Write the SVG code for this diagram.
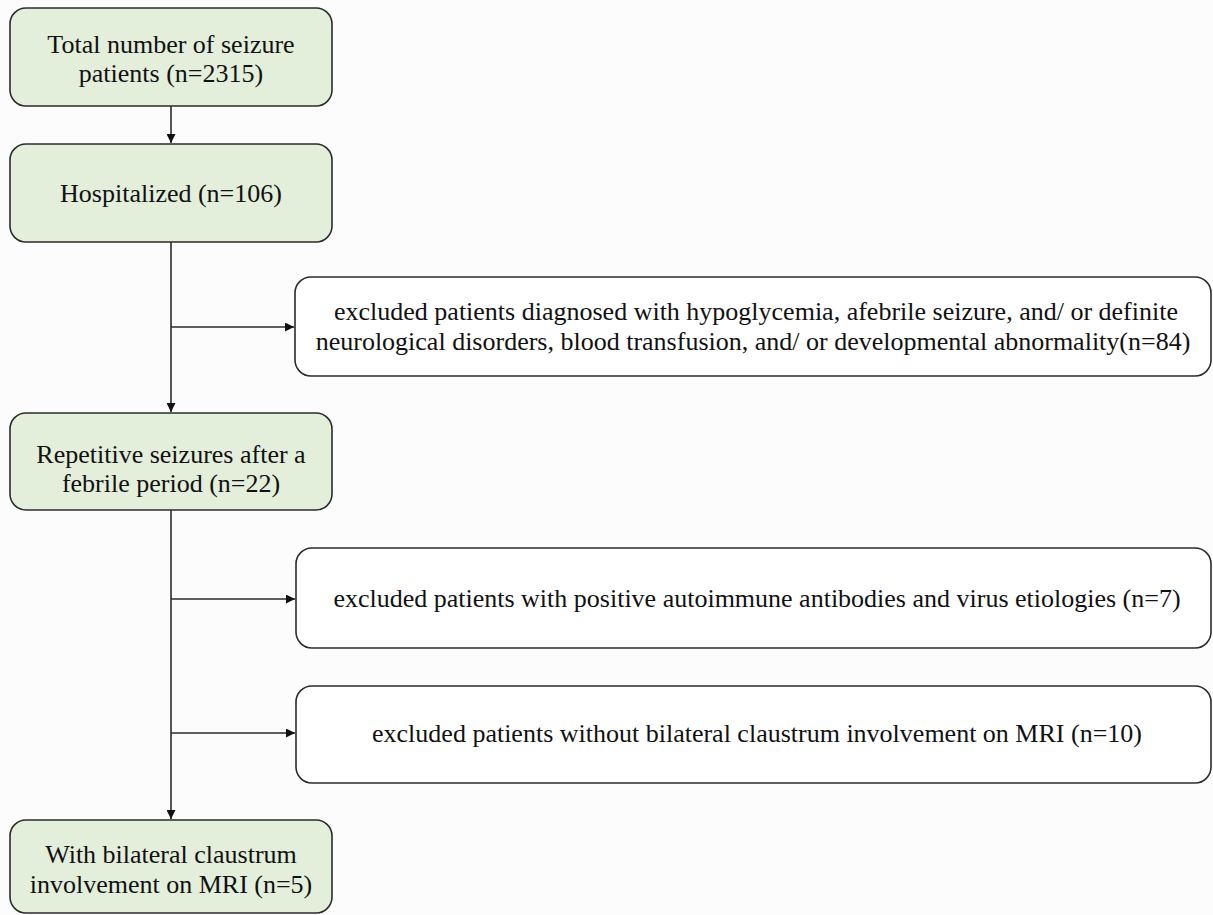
<svg xmlns="http://www.w3.org/2000/svg" width="1213" height="915" viewBox="0 0 1213 915">
<style>
.g{fill:#e3eedb;stroke:#2b2b2b;stroke-width:1.6}
.w{fill:#ffffff;stroke:#2b2b2b;stroke-width:1.6}
text{font-family:"Liberation Serif","Times New Roman",serif;font-size:26px;fill:#111111;text-anchor:middle}
.c{stroke:#2b2b2b;stroke-width:1.6;fill:none}
</style>
<defs>
<marker id="a" viewBox="0 0 10 10" refX="10" refY="5" markerWidth="10" markerHeight="9" markerUnits="userSpaceOnUse" orient="auto">
<path d="M0,0 L10,5 L0,10 z" fill="#111111"/>
</marker>
</defs>
<rect width="1213" height="915" fill="#fcfcfd"/>
<g id="connectors">
<line class="c" x1="171" y1="106" x2="171" y2="143" marker-end="url(#a)"/>
<line class="c" x1="171" y1="242" x2="171" y2="412" marker-end="url(#a)"/>
<line class="c" x1="171" y1="327" x2="294" y2="327" marker-end="url(#a)"/>
<line class="c" x1="171" y1="510" x2="171" y2="819" marker-end="url(#a)"/>
<line class="c" x1="171" y1="599" x2="295" y2="599" marker-end="url(#a)"/>
<line class="c" x1="171" y1="733" x2="295" y2="733" marker-end="url(#a)"/>
</g>
<g id="n1"><rect class="g" x="10" y="8" width="322" height="98" rx="16"/>
<text x="171" y="53">Total number of seizure</text><text x="171" y="82">patients (n=2315)</text></g>
<g id="n2"><rect class="g" x="10" y="144" width="322" height="98" rx="16"/>
<text x="171" y="202">Hospitalized (n=106)</text></g>
<g id="n3"><rect class="w" x="295" y="277" width="916" height="99" rx="16"/>
<text x="756" y="320">excluded patients diagnosed with hypoglycemia, afebrile seizure, and/ or definite</text>
<text x="753" y="350">neurological disorders, blood transfusion, and/ or developmental abnormality(n=84)</text></g>
<g id="n4"><rect class="g" x="10" y="413" width="322" height="97" rx="16"/>
<text x="171" y="463">Repetitive seizures after a</text><text x="171" y="492">febrile period (n=22)</text></g>
<g id="n5"><rect class="w" x="296" y="548" width="915" height="100" rx="16"/>
<text x="757" y="607">excluded patients with positive autoimmune antibodies and virus etiologies (n=7)</text></g>
<g id="n6"><rect class="w" x="296" y="686" width="915" height="97" rx="16"/>
<text x="757" y="742">excluded patients without bilateral claustrum involvement on MRI (n=10)</text></g>
<g id="n7"><rect class="g" x="10" y="820" width="322" height="93" rx="16"/>
<text x="171" y="863">With bilateral claustrum</text><text x="171" y="893">involvement on MRI (n=5)</text></g>
</svg>
